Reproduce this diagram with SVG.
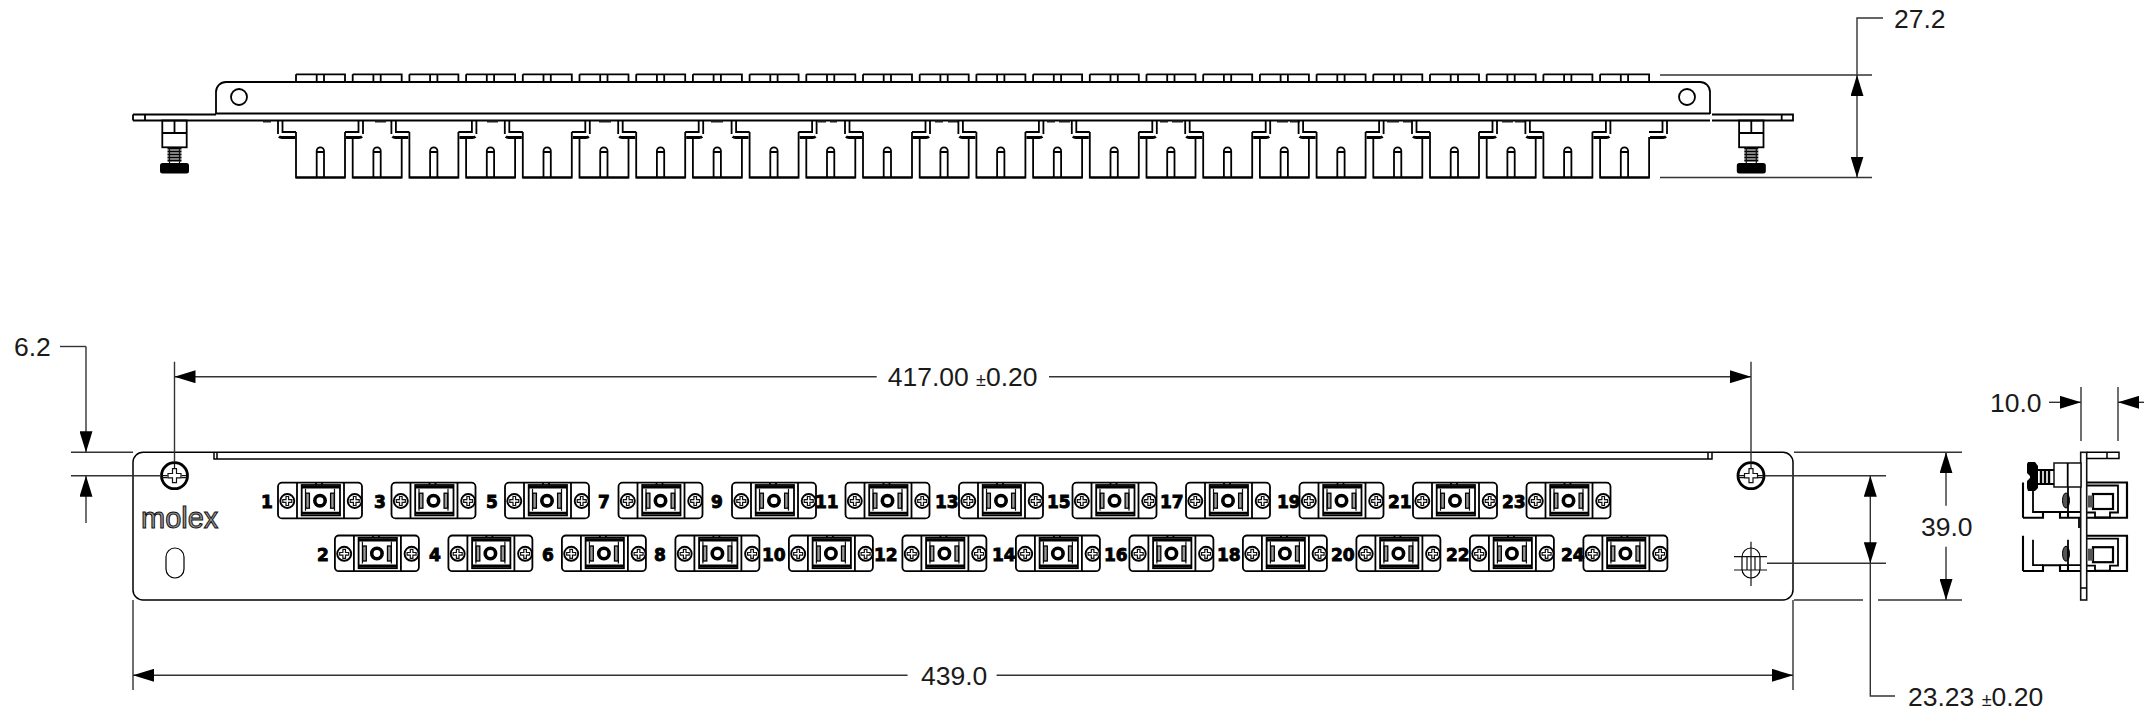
<svg xmlns="http://www.w3.org/2000/svg" xmlns:xlink="http://www.w3.org/1999/xlink" width="2144" height="715" viewBox="0 0 2144 715">
<style>
.p{fill:none;stroke:#000;stroke-width:1.8}
.t{fill:none;stroke:#000;stroke-width:2.8}
.m{fill:none;stroke:#111;stroke-width:1.2}
.d{fill:none;stroke:#333;stroke-width:1.4}
.da{fill:none;stroke:#333;stroke-width:1.4;marker-end:url(#ah)}
.dim{font:26.5px "Liberation Sans",Arial,sans-serif;fill:#1a1a1a}
.pm{font-size:18px}
.n{font:bold 17px "DejaVu Sans",sans-serif;fill:#000;stroke:#000;stroke-width:.9}
.logo{font:29px "Liberation Sans",Arial,sans-serif;fill:#999;stroke:#111;stroke-width:1}
</style>
<defs>
<marker id="ah" markerUnits="userSpaceOnUse" markerWidth="22" markerHeight="13" refX="21" refY="6.5" orient="auto"><path d="M0 0L21 6.5L0 13Z" fill="#000"/></marker>
<g id="base">
<path class="p" d="M0 74.3H49V82M0 82V74.3M20.7 74.3V82M28 74.3V82"/>
<path class="p" d="M20.7 177.5V151a3.65 3.65 0 0 1 7.3 0V177.5M20.7 152H28"/>
</g>
<g id="cOdd">
<use href="#base"/>
<path class="p" d="M0 132V177.5H49V132"/>
<path class="t" d="M0 177.5H49" style="stroke-width:2"/>
<path class="p" d="M-18 120V134M-13.5 120V132H0M67 120V134M62.5 120V132H49"/>
<path class="t" d="M-17 136.5Q-16 137.5 -14 137.5H-1M66 136.5Q65 137.5 63 137.5H50"/>
</g>
<g id="cEven">
<use href="#base"/>
<path class="p" d="M0 137V177.5H49V137"/>
<path class="t" d="M0 177.5H49" style="stroke-width:2"/>
</g>
<g id="sc">
<circle r="7" fill="none" stroke="#000" stroke-width="1.9"/>
<path class="m" d="M-4.5 -1.3H-1.3V-4.5H1.3V-1.3H4.5V1.3H1.3V4.5H-1.3V1.3H-4.5Z"/>
</g>
<g id="ad">
<rect class="p" x="0" y="0" width="84" height="35.7" rx="4"/>
<path class="p" d="M19 0V35.7M66 0V35.7M38 0V2M44 0V2"/>
<rect x="23.7" y="2.3" width="38.3" height="30.4" fill="none" stroke="#000" stroke-width="1.8"/>
<path class="t" d="M24 4.5H62M24 30.5H62" style="stroke-width:2.8"/>
<path class="m" d="M27.5 28V6M56.5 28V6"/>
<rect x="27.8" y="10.5" width="3.6" height="15" fill="#999" stroke="#000" stroke-width="1.3"/>
<rect x="52.6" y="10.5" width="3.6" height="15" fill="#999" stroke="#000" stroke-width="1.3"/>
<circle cx="42" cy="18" r="5.2" fill="none" stroke="#000" stroke-width="3.6"/>
<use href="#sc" x="9.3" y="18.3"/>
<use href="#sc" x="76.7" y="18.3"/>
</g>
<g id="bolt">
<rect class="p" x="-12.2" y="120.5" width="24.4" height="26.8"/>
<path class="p" d="M-12.2 133H12.2M0 120.5V133"/>
<path d="M-7 148.5H7M-7 151.5H7M-7 154.5H7M-7 157.5H7M-7 160.5H7" stroke="#000" stroke-width="2" fill="none"/>
<path class="m" d="M-5 147.3V163M5 147.3V163"/>
<rect x="-14.5" y="163" width="29" height="10.5" rx="2.5" fill="#000"/>
</g>
<g id="mainsc">
<circle r="13" fill="none" stroke="#000" stroke-width="2.8"/>
<path class="m" d="M-13 0H-7M7 0H13M-13 2H-7M7 2H13M0 -13V-7"/>
<path class="m" d="M-2 -7V-2.2H-6.5V2.2H-2V7H2V2.2H6.5V-2.2H2V-7Z"/>
</g>
<g id="side">
<path class="t" d="M2087 0H2127V35.3H2087M2068 35.3H2081M2023 35.3H2043V29.5H2060V35.3H2068V29.5" style="stroke-width:2.1"/>
<path class="t" d="M2023 0V35.3M2127 0V35.3" style="stroke-width:2.1"/>
<path class="p" d="M2033 4V29.5H2043M2060 29.5H2081M2087 3H2118V30H2110V35H2095V30H2087"/>
<rect x="2093" y="11.5" width="20" height="15" fill="none" stroke="#000" stroke-width="2.2"/>
<rect x="2088" y="13" width="5" height="12" fill="#555"/>
<ellipse cx="2066" cy="18" rx="3.5" ry="7.5" fill="#555" stroke="#000"/>
<path class="p" d="M2068 4V29.5"/>
</g>
</defs>

<g id="top-view-panel">
<path class="p" d="M216 114V92a10 10 0 0 1 10 -10H1700a10 10 0 0 1 10 10V114"/>
<path class="p" d="M216 113.5H1710"/>
<path class="t" d="M216 120.5H1710" style="stroke-width:2"/>
<circle class="p" cx="239" cy="97" r="8"/>
<circle class="p" cx="1687" cy="97" r="8"/>
<path class="p" d="M133 114.5H216M133 120.5H216M133 114.5V120.5M145 114.5V120.5M1712 114.5H1793V120.5H1712M1781.7 114.5V120.5"/>
<path d="M263 120.5h8v2h-8zM375 120.5h11v2h-11zM487 120.5h11v2h-11zM599 120.5h12v2h-12zM711 120.5h12v2h-12zM818 120.5h8v2h-8zM830 120.5h7v2h-7zM935 120.5h8v2h-8zM948 120.5h11v2h-11zM1047 120.5h8v2h-8zM1059 120.5h11v2h-11zM1160 120.5h8v2h-8zM1172 120.5h11v2h-11zM1277 120.5h11v2h-11zM1290 120.5h10v2h-10zM1387 120.5h12v2h-12zM1403 120.5h8v2h-8zM1502 120.5h11v2h-11zM1515 120.5h10v2h-10z" fill="#222"/>
<use id="bolt-left" href="#bolt" x="174.5"/>
<use id="bolt-right" href="#bolt" x="1751.3"/>
</g>
<g id="top-view-connectors">
<use href="#cOdd" x="296"/><use href="#cEven" x="352.7"/>
<use href="#cOdd" x="409.4"/><use href="#cEven" x="466.1"/>
<use href="#cOdd" x="522.8"/><use href="#cEven" x="579.5"/>
<use href="#cOdd" x="636.2"/><use href="#cEven" x="692.9"/>
<use href="#cOdd" x="749.6"/><use href="#cEven" x="806.3"/>
<use href="#cOdd" x="863"/><use href="#cEven" x="919.7"/>
<use href="#cOdd" x="976.4"/><use href="#cEven" x="1033.1"/>
<use href="#cOdd" x="1089.8"/><use href="#cEven" x="1146.5"/>
<use href="#cOdd" x="1203.2"/><use href="#cEven" x="1259.9"/>
<use href="#cOdd" x="1316.6"/><use href="#cEven" x="1373.3"/>
<use href="#cOdd" x="1430"/><use href="#cEven" x="1486.7"/>
<use href="#cOdd" x="1543.4"/><use href="#cEven" x="1600.1"/>
<path class="p" d="M1667 120V134M1662.5 120V132H1649"/>
<path class="t" d="M1666 136.5Q1665 137.5 1663 137.5H1650"/>
</g>

<g id="front-panel">
<rect class="p" x="133" y="452.3" width="1660" height="147.7" rx="10" style="stroke-width:1.5"/>
<path class="p" d="M214 452.3V459H1712V452.3" style="stroke-width:1.5"/>
<path class="p" d="M217 453V459M1708 453V459" style="stroke-width:1.5"/>
<rect class="p" x="166" y="548" width="18" height="30" rx="9" style="stroke-width:1.2"/>
<text class="logo" x="141" y="528">molex</text>
</g>
<g id="screw-left"><use href="#mainsc" x="174.5" y="475.7"/></g>
<g id="screw-right"><use href="#mainsc" x="1751" y="475.7"/></g>
<g id="slot-right">
<rect class="p" x="1742" y="548" width="18" height="30" rx="9" style="stroke-width:1.2"/>
<path class="m" d="M1734 556.7H1767M1734 570H1767M1751 541.7V586M1747 556V570M1755 556V570"/>
</g>

<g id="adapters">
<use id="a1" href="#ad" x="278" y="482.7"/>
<use id="a3" href="#ad" x="391.5" y="482.7"/>
<use id="a5" href="#ad" x="505" y="482.7"/>
<use id="a7" href="#ad" x="618.5" y="482.7"/>
<use id="a9" href="#ad" x="732" y="482.7"/>
<use id="a11" href="#ad" x="845.5" y="482.7"/>
<use id="a13" href="#ad" x="959" y="482.7"/>
<use id="a15" href="#ad" x="1072.5" y="482.7"/>
<use id="a17" href="#ad" x="1186" y="482.7"/>
<use id="a19" href="#ad" x="1299.5" y="482.7"/>
<use id="a21" href="#ad" x="1413" y="482.7"/>
<use id="a23" href="#ad" x="1526.5" y="482.7"/>
<use id="a2" href="#ad" x="334.9" y="535.5"/>
<use id="a4" href="#ad" x="448.4" y="535.5"/>
<use id="a6" href="#ad" x="561.9" y="535.5"/>
<use id="a8" href="#ad" x="675.4" y="535.5"/>
<use id="a10" href="#ad" x="788.9" y="535.5"/>
<use id="a12" href="#ad" x="902.4" y="535.5"/>
<use id="a14" href="#ad" x="1015.9" y="535.5"/>
<use id="a16" href="#ad" x="1129.4" y="535.5"/>
<use id="a18" href="#ad" x="1242.9" y="535.5"/>
<use id="a20" href="#ad" x="1356.4" y="535.5"/>
<use id="a22" href="#ad" x="1469.9" y="535.5"/>
<use id="a24" href="#ad" x="1583.4" y="535.5"/>
</g>
<g id="adapter-labels">
<text class="n" x="261" y="507.7">1</text>
<text class="n" x="374" y="507.7">3</text>
<text class="n" x="486" y="507.7">5</text>
<text class="n" x="598" y="507.7">7</text>
<text class="n" x="711" y="507.7">9</text>
<text class="n" x="815" y="507.7">11</text>
<text class="n" x="935" y="507.7">13</text>
<text class="n" x="1047" y="507.7">15</text>
<text class="n" x="1160" y="507.7">17</text>
<text class="n" x="1277" y="507.7">19</text>
<text class="n" x="1388" y="507.7">21</text>
<text class="n" x="1502" y="507.7">23</text>
<text class="n" x="317" y="560.7">2</text>
<text class="n" x="429" y="560.7">4</text>
<text class="n" x="542" y="560.7">6</text>
<text class="n" x="654" y="560.7">8</text>
<text class="n" x="762" y="560.7">10</text>
<text class="n" x="874" y="560.7">12</text>
<text class="n" x="992" y="560.7">14</text>
<text class="n" x="1104" y="560.7">16</text>
<text class="n" x="1217" y="560.7">18</text>
<text class="n" x="1331" y="560.7">20</text>
<text class="n" x="1446" y="560.7">22</text>
<text class="n" x="1561" y="560.7">24</text>
</g>

<g id="side-view">
<use href="#side" y="482.5"/>
<use href="#side" y="535.7"/>
<rect x="2080.7" y="452.3" width="6" height="147.7" fill="#fff" stroke="#111" stroke-width="1.6"/>
<path class="p" d="M2080.7 588H2086.7M2086.7 452.3H2119V458.5H2086.7M2107 452.3V458.5" style="stroke-width:1.5"/>
<rect x="2054" y="463" width="27" height="24" fill="#fff" stroke="#111" stroke-width="1.5"/>
<path class="p" d="M2067.7 463V487"/>
<path d="M2041 470V484M2045 470V484M2049 470V484" stroke="#000" stroke-width="2.4" fill="none"/>
<path class="p" d="M2038 470H2054M2038 484H2054"/>
<path d="M2028 462h7l3 4v22l-3 3h-7l-1-3v-7l3-3v-2l-3-3v-9z" fill="#000"/>
<path class="p" d="M2079 518V528"/>
</g>

<g id="connectors">
<path class="d" d="M1883 18H1857V75"/>
<path class="d" d="M1660 75H1872M1660 177.5H1872"/>
<path class="da" d="M1857 115V75"/>
<path class="da" d="M1857 115V177.5"/>

<path class="d" d="M60 346.5H86"/>
<path class="da" d="M86 346.5V452.3"/>
<path class="da" d="M86 523V475.7"/>
<path class="d" d="M71 452.3H133M71 475.7H161"/>

<path class="d" d="M174.5 361.7V462M1751 361.7V462"/>
<path class="da" d="M876.7 376.7H174.5"/>
<path class="da" d="M1049 376.7H1751"/>

<path class="d" d="M133 600V690M1793 600V690"/>
<path class="da" d="M907.6 675.3H133"/>
<path class="da" d="M996.6 675.3H1793"/>

<path class="d" d="M1794 452.3H1962M1794 600H1863M1878 600H1962"/>
<path class="da" d="M1946 505.7V452.3"/>
<path class="da" d="M1946 546.7V600"/>

<path class="d" d="M1765 475.7H1886M1767 563.3H1886"/>
<path class="da" d="M1870.3 520V475.7"/>
<path class="da" d="M1870.3 520V563.3"/>
<path class="d" d="M1870.3 563.3V696H1895"/>

<path class="d" d="M2081 387V441M2118 387V441"/>
<path class="da" d="M2049 402.3H2081"/>
<path class="da" d="M2144 402.3H2118"/>
</g>

<g id="dimension-labels">
<text class="dim" x="1894" y="28">27.2</text>
<text class="dim" x="14" y="356">6.2</text>
<text class="dim" x="887.7" y="386">417.00 <tspan class="pm">±</tspan>0.20</text>
<text class="dim" x="921" y="685">439.0</text>
<text class="dim" x="1921" y="536">39.0</text>
<text class="dim" x="1908" y="706">23.23 <tspan class="pm">±</tspan>0.20</text>
<text class="dim" x="1990" y="412">10.0</text>
</g>
</svg>
